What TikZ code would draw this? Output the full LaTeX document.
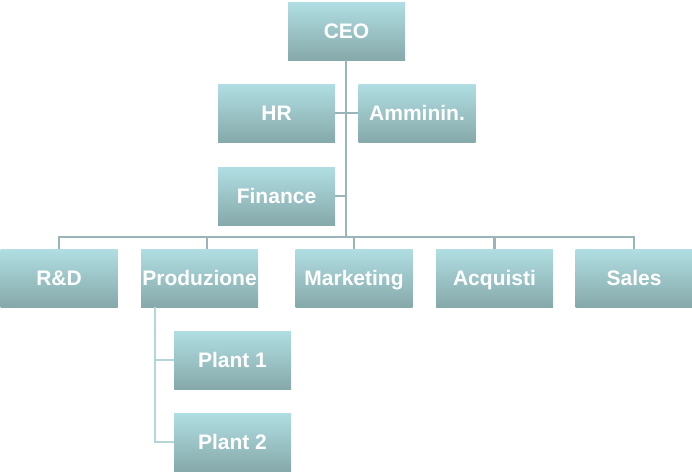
\documentclass[tikz,border=0pt]{standalone}
\usepackage{fontspec}
\setmainfont{Liberation Sans}
\usepackage{xcolor}
\definecolor{boxtop}{HTML}{B0DEE2}
\definecolor{boxbot}{HTML}{86A9AA}
\definecolor{wire}{HTML}{9AB5B8}
\definecolor{wirelight}{HTML}{B5D5D7}
\tikzset{
  orgbox/.style={rectangle, minimum width=117pt, minimum height=58pt, inner sep=0pt,
    top color=boxtop, bottom color=boxbot, text=white,
    text height=14.8pt, text depth=0pt,
    font=\bfseries\fontsize{21}{24}\selectfont},
  wireline/.style={draw=wire, line width=2.2pt},
}

\begin{document}
\begin{tikzpicture}[x=1pt, y=-1pt]
                \useasboundingbox (0,0) rectangle (692,472);
                % top levels
                \node[orgbox] (ceo) at (346.5, 31) {CEO};
                \node[orgbox] (hr) at (276.5, 113) {HR};
                \node[orgbox] (amm) at (417, 113) {Amminin.};
                \node[orgbox] (fin) at (276.5, 196) {Finance};
                % departments
                \node[orgbox] (rd) at (59, 278) {R\&D};
                \node[orgbox] (prod) at (199.5, 278) {Produzione};
                \node[orgbox] (mkt) at (354, 278) {Marketing};
                \node[orgbox] (acq) at (494.5, 278) {Acquisti};
                \node[orgbox] (sales) at (634, 278) {Sales};
                % plants
                \node[orgbox] (p1) at (232.5, 360) {Plant 1};
                \node[orgbox] (p2) at (232.5, 442) {Plant 2};
                \coordinate (bus) at (346, 237);
                \draw[wireline] (ceo.south -| bus) -- (bus);
                \draw[wireline] (hr.east) -- (amm.west);
                \draw[wireline] (fin.east) -- (fin.east -| bus);
                \draw[wireline] (rd.north) -- (rd.north |- bus) -- (sales.north |- bus) -- (sales.north);
                \draw[wireline] ([xshift=7.5pt]prod.north) -- ([xshift=7.5pt]prod.north |- bus);
                \draw[wireline] (mkt.north) -- (mkt.north |- bus);
                \draw[wireline] (acq.north) -- (acq.north |- bus);
                \draw[draw=wirelight, line width=2.2pt] (prod.south -| 155,0) -- (p2.west -| 155,0) -- (p2.west);
                \draw[draw=wirelight, line width=2.2pt] (p1.west -| 155,0) -- (p1.west);
            \end{tikzpicture}
\end{document}
